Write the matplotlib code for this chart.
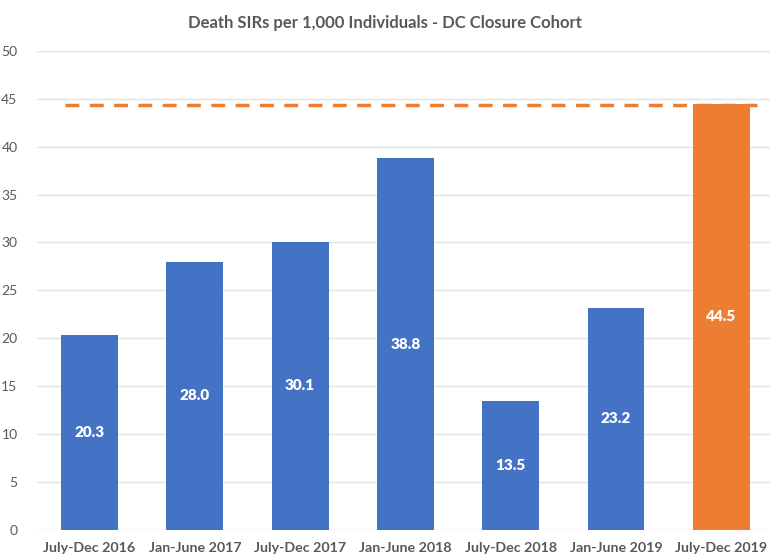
import matplotlib.pyplot as plt

periods = ["July-Dec 2016", "Jan-June 2017", "July-Dec 2017", "Jan-June 2018",
           "July-Dec 2018", "Jan-June 2019", "July-Dec 2019"]
sir_values = [20.3, 28.0, 30.1, 38.8, 13.5, 23.2, 44.5]
threshold = 44.3

blue = "#4472C4"
orange = "#ED7D31"
gray = "#595959"

plt.rcParams['font.family'] = ['Lato', 'DejaVu Sans']

fig = plt.figure(figsize=(7.7, 5.59), dpi=100)
ax = fig.add_axes([0.048, 0.052, 0.957, 0.857])

x = list(range(len(periods)))
colors = [blue] * (len(periods) - 1) + [orange]
ax.bar(x, sir_values, width=0.54, color=colors, zorder=2)

for xi, v in zip(x, sir_values):
    ax.text(xi, v / 2, f"{v:.1f}", ha="center", va="center",
            color="white", fontsize=11, fontweight="heavy", zorder=3)

ax.hlines(threshold, -0.23, 6.34, colors=orange, linestyles=(0, (4, 3)),
          linewidth=2.5, zorder=3)

ax.set_ylim(0, 50)
ax.set_xlim(-0.5, len(periods) - 0.5)
ax.set_yticks(range(0, 51, 5))
ax.set_xticks(x)
ax.set_xticklabels(periods, fontsize=10.3, fontweight="bold", color=gray)
ax.tick_params(axis="y", labelsize=10, labelcolor=gray, length=0, pad=14)
ax.tick_params(axis="x", length=0, pad=9)
ax.grid(axis="y", color="#E3E3E3", linewidth=1, zorder=0)
for s in ax.spines.values():
    s.set_visible(False)

fig.text(0.5, 0.958, "Death SIRs per 1,000 Individuals - DC Closure Cohort",
         ha="center", va="center", fontsize=12, fontweight="bold", color=gray)

fig.savefig("out.png", dpi=100)
